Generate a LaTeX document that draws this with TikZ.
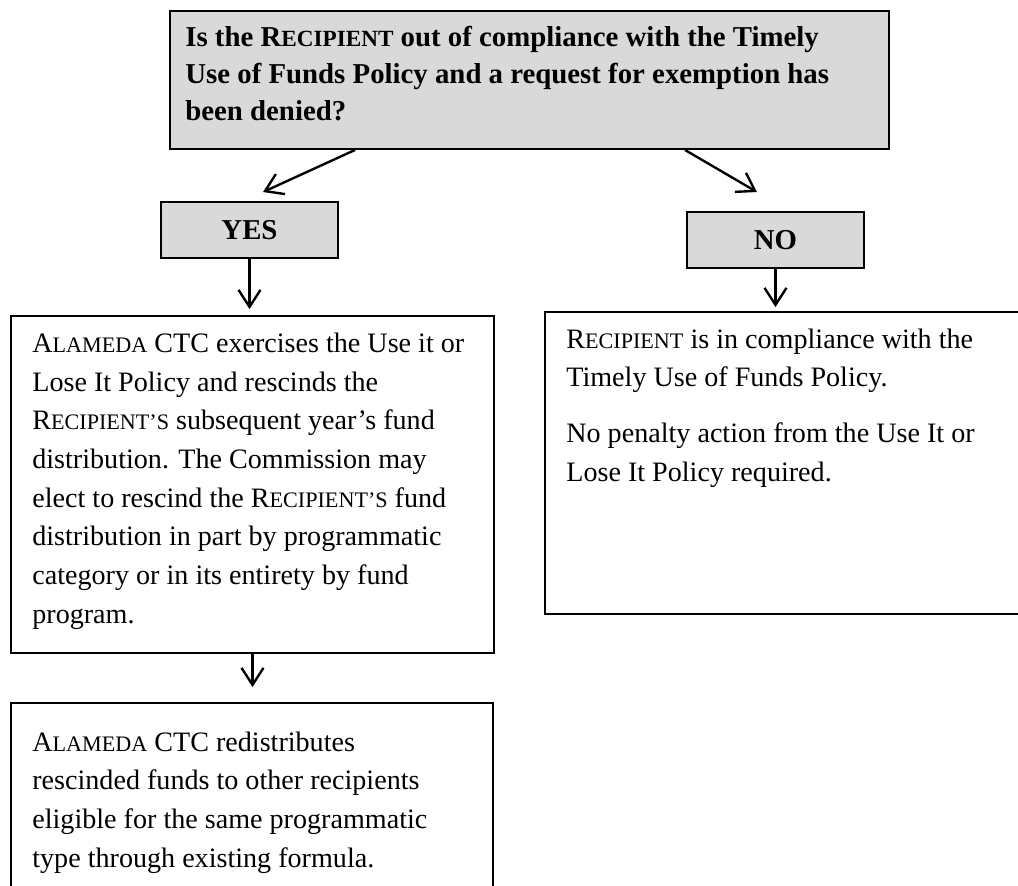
\documentclass[tikz,border=0pt]{standalone}
\usepackage{fontspec}
\setmainfont{Liberation Serif}
\usetikzlibrary{arrows.meta,calc}

\newcommand{\fakesc}[2]{#1{\fontsize{12.6}{22}\selectfont #2}}
\newcommand{\fakescbf}[2]{#1{\fontsize{13.2}{22}\selectfont #2}}

\tikzset{
  graybox/.style={draw, line width=1.1pt, fill=black!15, inner sep=0pt},
  plainbox/.style={draw, line width=1.1pt, inner sep=0pt},
  boxtext/.style={anchor=base west, align=left, inner sep=0pt, font=\fontsize{16}{22}\selectfont},
  flow/.style={-{Straight Barb[length=0.34cm,width=0.44cm]}, line width=1.35pt}
}

\begin{document}
\begin{tikzpicture}[x=0.02cm, y=-0.02cm]
  \useasboundingbox (0,0) rectangle (1018,886);
  \clip (0,0) rectangle (1018,886);

  % boxes
  \node[graybox, minimum width=14.38cm, minimum height=2.76cm] (q) at (529.5,80) {};
  \node[graybox, minimum width=3.54cm, minimum height=1.12cm] (yes) at (249.5,230) {\bfseries\fontsize{16.4}{20}\selectfont YES};
  \node[graybox, minimum width=3.54cm, minimum height=1.12cm] (no) at (775.5,240) {\bfseries\fontsize{16.4}{20}\selectfont NO};
  \node[plainbox, minimum width=9.66cm, minimum height=6.74cm] (act) at (252.5,484.5) {};
  \node[plainbox, minimum width=10.3cm, minimum height=6.04cm] (nopen) at (802.5,463) {};
  \node[plainbox, minimum width=9.64cm, minimum height=4.34cm] (redist) at (252,811.5) {};

  % texts (anchored at the baseline of their last line)
  \node[boxtext, font=\bfseries\fontsize{16.4}{21}\selectfont] (qtext) at (185,120)
    {Is the \fakescbf{R}{ECIPIENT} out of compliance with the Timely\\
     Use of Funds Policy and a request for exemption has\\
     been denied?};
  \node[boxtext] (acttext) at (32,623)
    {\fakesc{A}{LAMEDA} CTC exercises the Use it or\\
     Lose It Policy and rescinds the\\
     \fakesc{R}{ECIPIENT'S} subsequent year's fund\\
     distribution. The Commission may\\
     elect to rescind the \fakesc{R}{ECIPIENT'S} fund\\
     distribution in part by programmatic\\
     category or in its entirety by fund\\
     program.};
  \node[boxtext] (nopentext) at (566,481)
    {\fakesc{R}{ECIPIENT} is in compliance with the\\
     Timely Use of Funds Policy.\\[9.7pt]
     No penalty action from the Use It or\\
     Lose It Policy required.};
  \node[boxtext] (redisttext) at (32,867)
    {\fakesc{A}{LAMEDA} CTC redistributes\\
     rescinded funds to other recipients\\
     eligible for the same programmatic\\
     type through existing formula.};

  % arrows
  \draw[flow] ([xshift=-3.49cm]q.south) -- ([xshift=0.27cm,yshift=0.18cm]yes.north);
  \draw[flow] ([xshift=3.11cm]q.south) -- ([xshift=-0.37cm,yshift=0.38cm]no.north);
  \draw[flow, shorten >=0.12cm] (yes.south) -- (yes.south |- act.north);
  \draw[flow, shorten >=0.08cm] (no.south) -- (no.south |- nopen.north);
  \draw[flow, shorten >=0.3cm] (act.south) -- (act.south |- redist.north);
\end{tikzpicture}
\end{document}
